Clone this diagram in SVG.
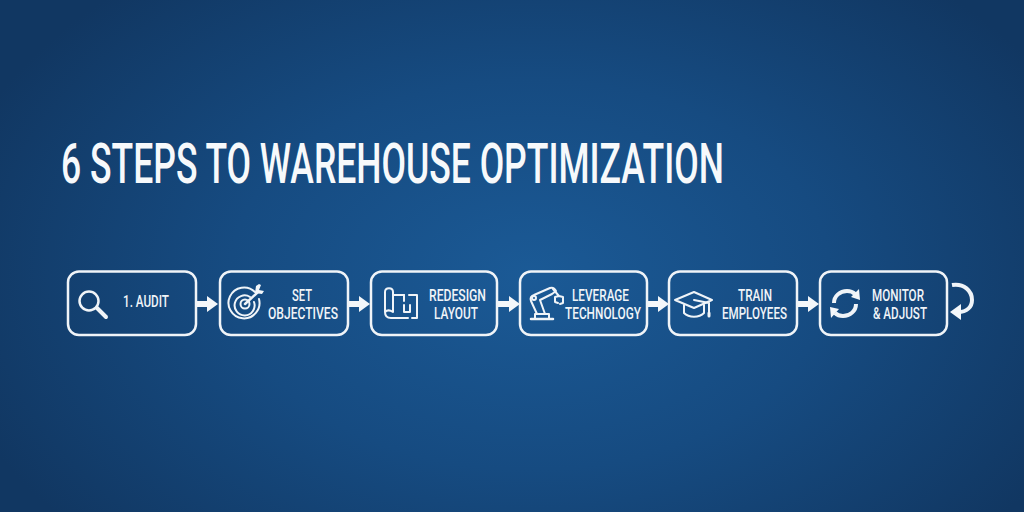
<svg xmlns="http://www.w3.org/2000/svg" width="1024" height="512" viewBox="0 0 1024 512">
<style>
.box{fill:none;stroke:#f0f4f8;stroke-width:2.500}
.t{fill:#f0f4f8;font-family:Roboto,"Liberation Sans",sans-serif;font-weight:500;font-size:17px}
.title{fill:#f7f9fb;font-family:Roboto,"Liberation Sans",sans-serif;font-weight:500;font-size:56px}
.i{fill:none;stroke:#f0f4f8;stroke-width:2;stroke-linecap:round;stroke-linejoin:round}
.w{fill:#f4f7fa;stroke:none}
</style>
<defs>
<radialGradient id="bg" gradientUnits="userSpaceOnUse" cx="530" cy="275" r="600" gradientTransform="translate(0 96) scale(1 .65)">
<stop offset="0" stop-color="#1b5a96"/><stop offset=".5" stop-color="#164b81"/><stop offset="1" stop-color="#113762"/>
</radialGradient>
<path id="ar" d="M0-3H11V-8L22 0 11 8V3H0Z"/>
</defs>
<rect width="1024" height="512" fill="url(#bg)"/>
<text class="title" transform="translate(61 183) scale(.6345 1)">6 STEPS TO WAREHOUSE OPTIMIZATION</text>

<g id="connectors" class="w">
<use href="#ar" x="196" y="304"/>
<use href="#ar" x="348" y="304"/>
<use href="#ar" x="498" y="304"/>
<use href="#ar" x="647" y="304"/>
<use href="#ar" x="797" y="304"/>
<path class="i" style="stroke-width:4;stroke-linecap:butt" d="M952 285C964 283 972 291 972 300C972 307 967 312 958 312"/>
<path d="M950 312L961 304V320Z"/>
</g>

<g id="step1">
<rect class="box" x="68" y="271.500" width="128" height="63.500" rx="11"/>
<circle class="i" style="stroke-width:2.500" cx="89" cy="301" r="9.500"/>
<path class="i" style="stroke-width:4" d="M97 308L106 317"/>
<text class="t" x="123" y="307" textLength="46" lengthAdjust="spacingAndGlyphs">1. AUDIT</text>
</g>

<g id="step2">
<rect class="box" x="220" y="271.500" width="128" height="63.500" rx="11"/>
<g class="i">
<path d="M255 292A15.500 15.500 0 1 0 259 299"/>
<path d="M250 297A10 10 0 1 0 254 302"/>
<circle cx="245" cy="304" r="4.500"/>
<path d="M245 304L258 292" style="stroke-width:2.500"/>
<path class="w" d="M256 286L255 293L262 294L264 291L259 290L261 285L259 284Z"/>
</g>
<text class="t"><tspan x="292" y="300.500" textLength="20" lengthAdjust="spacingAndGlyphs">SET</tspan><tspan x="268" y="318.500" textLength="70" lengthAdjust="spacingAndGlyphs">OBJECTIVES</tspan></text>
</g>

<g id="step3">
<rect class="box" x="371" y="271.500" width="126" height="63.500" rx="11"/>
<g class="i">
<path d="M385 312V292C385 287 393 287 393 292V312C390 310 387 310 385 312C385 316 387 318 391 318H408"/>
<path d="M393 295H404M409 295H417V318H412"/>
<path d="M404 295V301M404 305V312H410M410 305V312"/>
</g>
<text class="t"><tspan x="429" y="301" textLength="57" lengthAdjust="spacingAndGlyphs">REDESIGN</tspan><tspan x="434" y="319" textLength="44" lengthAdjust="spacingAndGlyphs">LAYOUT</tspan></text>
</g>

<g id="step4">
<rect class="box" x="520" y="271.500" width="127" height="63.500" rx="11"/>
<g class="i">
<path d="M531 319H553" style="stroke-width:2.500"/>
<path d="M535 319V314H549V319"/>
<path d="M537 314L531 301C530 298 531 296 534 295L550 288C553 287 555 289 556 291L552 294L540 300L545 314"/>
<circle cx="534" cy="298" r="2"/>
<path d="M553 289L559 296M555 297L559 296L563 297M555 297V302L558 303M563 297V303L560 304"/>
</g>
<text class="t"><tspan x="572" y="301" textLength="57" lengthAdjust="spacingAndGlyphs">LEVERAGE</tspan><tspan x="565" y="319" textLength="76" lengthAdjust="spacingAndGlyphs">TECHNOLOGY</tspan></text>
</g>

<g id="step5">
<rect class="box" x="669" y="271.500" width="128" height="63.500" rx="11"/>
<g class="i">
<path d="M675 300L694 292L712 300L694 308Z"/>
<path d="M684 305V313C689 318 699 318 704 313V305"/>
<path d="M694 300L709 303V313"/>
<path d="M709 313V316" style="stroke-width:3"/>
</g>
<text class="t"><tspan x="738" y="301" textLength="34" lengthAdjust="spacingAndGlyphs">TRAIN</tspan><tspan x="722" y="319" textLength="65" lengthAdjust="spacingAndGlyphs">EMPLOYEES</tspan></text>
</g>

<g id="step6">
<rect class="box" x="820" y="271.500" width="127" height="63.500" rx="11"/>
<g class="i" style="stroke-width:4;stroke-linecap:butt">
<path d="M834 303C834 296 840 291 847 291C851 291 853 292 855 294"/>
<path d="M856 304C856 311 850 316 843 316C839 316 837 315 835 313"/>
</g>
<path class="w" d="M851 297L859 289L860 300ZM839 309L831 318L830 307Z"/>
<text class="t"><tspan x="872" y="300.500" textLength="52" lengthAdjust="spacingAndGlyphs">MONITOR</tspan><tspan x="873" y="318.500" textLength="54" lengthAdjust="spacingAndGlyphs">&amp; ADJUST</tspan></text>
</g>
</svg>
